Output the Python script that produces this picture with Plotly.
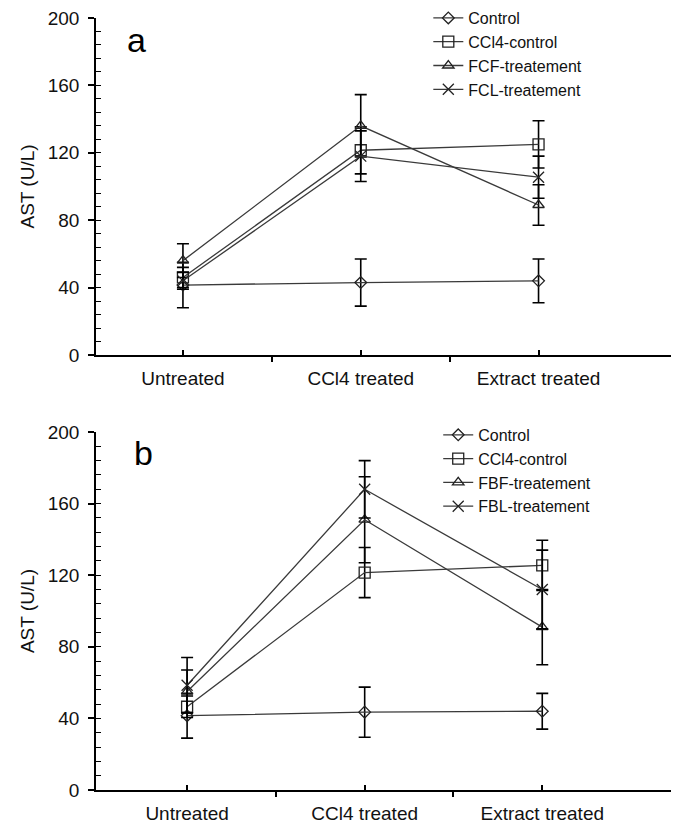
import plotly.graph_objects as go

categories = ["Untreated", "CCl4 treated", "Extract treated"]
xpos = [1, 2, 3]

# Panel a
a_names = ["Control", "CCl4-control", "FCF-treatement", "FCL-treatement"]
a_values = [
    [41.5, 43.0, 44.0],
    [46.0, 121.5, 125.0],
    [56.0, 136.0, 89.0],
    [44.0, 118.0, 105.5],
]
a_errors = [
    [13.5, 14.0, 13.0],
    [6.0, 14.0, 14.0],
    [10.0, 18.5, 12.0],
    [5.0, 15.0, 12.5],
]

# Panel b
b_names = ["Control", "CCl4-control", "FBF-treatement", "FBL-treatement"]
b_values = [
    [41.5, 43.5, 44.0],
    [46.5, 121.5, 125.5],
    [55.0, 151.0, 91.0],
    [58.5, 168.0, 112.0],
]
b_errors = [
    [12.5, 14.0, 10.0],
    [6.0, 14.0, 14.0],
    [12.0, 24.0, 21.0],
    [15.5, 16.0, 22.0],
]

y_ticks = [0, 40, 80, 120, 160, 200]
y_inner_ticks = list(range(0, 201, 8))

symbols = ["diamond-open", "square-open", "triangle-up-open", "x-thin-open"]
sizes = [9, 11, 10, 11]

FONT = "Liberation Sans, Arial, sans-serif"
fig = go.Figure()

def add_panel(names, values, errors, xa, ya, legend):
    for n, v, e, s, sz in zip(names, values, errors, symbols, sizes):
        fig.add_trace(go.Scatter(
            x=xpos, y=v, name=n, mode="lines+markers",
            xaxis=xa, yaxis=ya, legend=legend,
            line=dict(color="#3a3a3a", width=1.3),
            marker=dict(symbol=s, size=sz, color="#222222",
                        line=dict(color="#222222", width=1.3)),
            error_y=dict(type="data", array=e, visible=True,
                         color="black", thickness=1.6, width=6),
        ))

add_panel(a_names, a_values, a_errors, "x", "y", "legend")
add_panel(b_names, b_values, b_errors, "x2", "y2", "legend2")

dom_a = [0.5635, 1.0]
dom_b = [0.0, 0.4637]
rng_a = [0.511, 3.79]
rng_b = [0.487, 3.77]

tickfont = dict(family=FONT, size=19, color="#111111")

def xaxis_cfg(rng, anchor):
    return dict(range=rng, domain=[0, 1], anchor=anchor, automargin=False,
                tickvals=xpos, ticktext=categories, tickfont=tickfont,
                ticks="inside", ticklen=5, tickwidth=1.5, tickcolor="black",
                ticklabelstandoff=5, ticklabeloverflow="allow",
                showline=True, linecolor="black", linewidth=1.5,
                showgrid=False, zeroline=False, fixedrange=True)

def xaxis_between(rng, anchor, overlay):
    return dict(range=rng, domain=[0, 1], anchor=anchor, overlaying=overlay,
                automargin=False,
                tickvals=[1.5, 2.5], showticklabels=False,
                ticks="outside", ticklen=6, tickwidth=1.5, tickcolor="black",
                showline=False, showgrid=False, zeroline=False)

def yaxis_cfg(dom, anchor):
    return dict(range=[0, 200], domain=dom, anchor=anchor, automargin=False,
                tickvals=y_ticks, tickfont=tickfont,
                ticks="outside", ticklen=6, tickwidth=1.5, tickcolor="black",
                ticklabelstandoff=5, ticklabeloverflow="allow",
                showline=True, linecolor="black", linewidth=1.5,
                showgrid=False, zeroline=False,
                title=dict(text="AST (U/L)", font=dict(family=FONT, size=19, color="#111111"),
                           standoff=8))

def yaxis_inner(dom, anchor, overlay):
    return dict(range=[0, 200], domain=dom, anchor=anchor, overlaying=overlay,
                automargin=False, tickvals=y_inner_ticks, showticklabels=False,
                ticks="inside", ticklen=5, tickwidth=1.2, tickcolor="black",
                showline=False, showgrid=False, zeroline=False)

fig.update_layout(
    width=679, height=827,
    margin=dict(l=88, r=8, t=10, b=45, autoexpand=False),
    paper_bgcolor="white", plot_bgcolor="white",
    font=dict(family=FONT, color="#111111"),
    xaxis=xaxis_cfg(rng_a, "y"),
    yaxis=yaxis_cfg(dom_a, "x"),
    xaxis2=xaxis_cfg(rng_b, "y2"),
    yaxis2=yaxis_cfg(dom_b, "x2"),
    xaxis3=xaxis_between(rng_a, "y", "x"),
    xaxis4=xaxis_between(rng_b, "y2", "x2"),
    yaxis3=yaxis_inner(dom_a, "x", "y"),
    yaxis4=yaxis_inner(dom_b, "x2", "y2"),
    legend=dict(x=0.57, y=1.022, xanchor="left", yanchor="top",
                font=dict(family=FONT, size=16, color="#111111"),
                bgcolor="rgba(0,0,0,0)", tracegroupgap=0),
    legend2=dict(x=0.587, y=0.482, xanchor="left", yanchor="top",
                 font=dict(family=FONT, size=16, color="#111111"),
                 bgcolor="rgba(0,0,0,0)", tracegroupgap=0),
    showlegend=True,
    annotations=[
        dict(text="a", x=0.07, y=0.971, xref="paper", yref="paper",
             xanchor="center", yanchor="middle",
             showarrow=False, font=dict(family=FONT, size=34, color="black")),
        dict(text="b", x=0.081, y=0.436, xref="paper", yref="paper",
             xanchor="center", yanchor="middle",
             showarrow=False, font=dict(family=FONT, size=34, color="black")),
    ],
)

# invisible traces to activate overlay axes
for xa, ya in [("x3", "y"), ("x4", "y2"), ("x", "y3"), ("x2", "y4")]:
    fig.add_trace(go.Scatter(x=[1], y=[0], xaxis=xa, yaxis=ya, showlegend=False,
                             mode="markers", marker=dict(opacity=0), hoverinfo="skip"))

fig.write_html("out.html")
